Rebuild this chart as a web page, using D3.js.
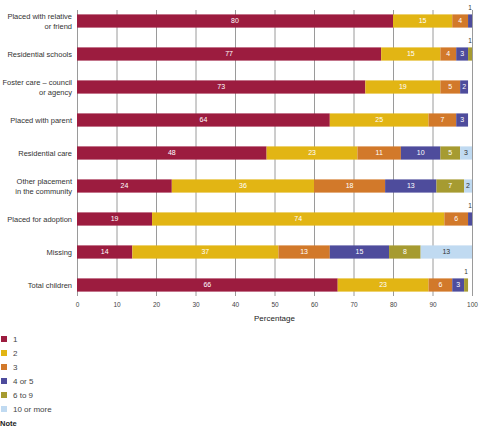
<!DOCTYPE html>
<html>
<head>
<meta charset="utf-8">
<script src="https://cdn.jsdelivr.net/npm/d3@7/dist/d3.min.js"></script>
<style>
  body { margin: 0; background: #fff; }
  svg { font-family: "Liberation Sans", Arial, sans-serif; }
</style>
</head>
<body>
<div id="chart"></div>
<script>
// Data
const categories = [
  "Placed with relative|or friend",
  "Residential schools",
  "Foster care \u2013 council|or agency",
  "Placed with parent",
  "Residential care",
  "Other placement|in the community",
  "Placed for adoption",
  "Missing",
  "Total children"
];
const seriesNames = ["1", "2", "3", "4 or 5", "6 to 9", "10 or more"];
const s1  = [80, 77, 73, 64, 48, 24, 19, 14, 66];
const s2  = [15, 15, 19, 25, 23, 36, 74, 37, 23];
const s3  = [4, 4, 5, 7, 11, 18, 6, 13, 6];
const s45 = [1, 3, 2, 3, 10, 13, 1, 15, 3];
const s69 = [0, 1, 0, 0, 5, 7, 0, 8, 1];
const s10 = [0, 0, 0, 0, 3, 2, 0, 13, 0];
const xTicks = [0, 10, 20, 30, 40, 50, 60, 70, 80, 90, 100];
const colors = ["#9c1c3f", "#e2b514", "#d2792a", "#4e4c9c", "#a69b31", "#c0daf1"];

const allSeries = [s1, s2, s3, s45, s69, s10];
const rows = categories.map(function(c, i) {
  const r = { cat: c };
  seriesNames.forEach(function(s, j) { r[s] = allSeries[j][i]; });
  return r;
});

const width = 486, height = 429;
const svg = d3.select("#chart").append("svg")
  .attr("width", width)
  .attr("height", height);

// Scales
const x = d3.scaleLinear().domain([0, 100]).range([77, 472]);
const y = d3.scaleBand().domain(categories).range([4.5, 301.5])
  .paddingInner(0.6).paddingOuter(0.3);

// Grid / x axis
const gridTop = 10, axisY = 296;
const xAxis = svg.append("g")
  .attr("transform", "translate(0," + axisY + ")")
  .call(d3.axisBottom(x).tickValues(xTicks).tickSizeInner(-(axisY - gridTop)).tickSizeOuter(0).tickPadding(6));
xAxis.select(".domain").remove();
xAxis.selectAll("line").attr("stroke", "#9a9a9a").attr("stroke-width", 1);
xAxis.selectAll("text")
  .attr("fill", "#444")
  .style("font-size", "6.5px");

svg.append("text")
  .attr("x", x(50))
  .attr("y", 321)
  .attr("text-anchor", "middle")
  .attr("fill", "#222")
  .style("font-size", "8px")
  .text("Percentage");

// Bars
const stack = d3.stack().keys(seriesNames);
const layers = stack(rows);

const layerG = svg.selectAll("g.layer")
  .data(layers)
  .enter().append("g")
  .attr("class", "layer")
  .attr("fill", function(d, i) { return colors[i]; });

layerG.selectAll("rect")
  .data(function(d) { return d.map(function(p) { return { p: p, key: d.key }; }); })
  .enter().append("rect")
  .attr("x", function(d) { return x(d.p[0]); })
  .attr("y", function(d) { return y(d.p.data.cat); })
  .attr("width", function(d) { return x(d.p[1]) - x(d.p[0]); })
  .attr("height", y.bandwidth());

// Value labels (1% segments get their label above the bar)
layers.forEach(function(layer, i) {
  layer.forEach(function(p) {
    const v = p[1] - p[0];
    if (v <= 0) return;
    const cx = (x(p[0]) + x(p[1])) / 2;
    const yTop = y(p.data.cat);
    if (v >= 2) {
      svg.append("text")
        .attr("x", cx)
        .attr("y", yTop + y.bandwidth() / 2)
        .attr("dy", "0.35em")
        .attr("text-anchor", "middle")
        .attr("fill", i === 5 ? "#333" : "#fff")
        .style("font-size", "7px")
        .text(v);
    } else {
      svg.append("text")
        .attr("x", cx)
        .attr("y", yTop - 4)
        .attr("text-anchor", "middle")
        .attr("fill", "#333")
        .style("font-size", "6.5px")
        .text(v);
    }
  });
});

// Category labels
categories.forEach(function(c) {
  const lines = c.split("|");
  const cy = y(c) + y.bandwidth() / 2;
  lines.forEach(function(line, k) {
    svg.append("text")
      .attr("x", 72)
      .attr("y", cy + (k - (lines.length - 1) / 2) * 10)
      .attr("dy", "0.35em")
      .attr("text-anchor", "end")
      .attr("fill", "#333")
      .style("font-size", "7.5px")
      .text(line);
  });
});

// Legend
const legend = svg.append("g");
seriesNames.forEach(function(s, i) {
  const ly = 339 + i * 14;
  legend.append("rect")
    .attr("x", 1)
    .attr("y", ly - 3)
    .attr("width", 6)
    .attr("height", 6)
    .attr("fill", colors[i]);
  legend.append("text")
    .attr("x", 13)
    .attr("y", ly)
    .attr("dy", "0.35em")
    .attr("fill", "#444")
    .style("font-size", "8px")
    .text(s);
});

svg.append("text")
  .attr("x", 0)
  .attr("y", 426)
  .attr("fill", "#222")
  .style("font-size", "7.5px")
  .style("font-weight", "bold")
  .text("Note");
</script>
</body>
</html>
